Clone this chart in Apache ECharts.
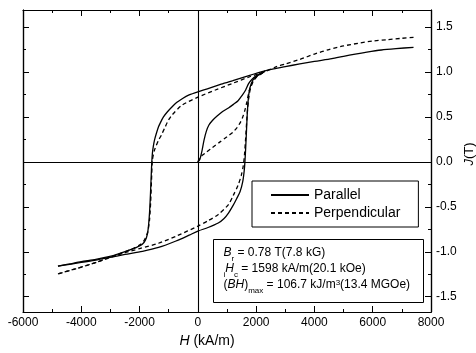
<!DOCTYPE html>
<html>
<head>
<meta charset="utf-8">
<script src="https://cdn.jsdelivr.net/npm/echarts@6/dist/echarts.min.js"></script>
<style>
html,body{margin:0;padding:0;background:#fff;}
#chart{width:476px;height:353px;}
</style>
</head>
<body>
<div id="chart"></div>
<script>
// ---- data (H in kA/m, J in T) ----
const parallelInitial = [[0,0],[70,0.03],[140,0.12],[210,0.24],[290,0.34],[380,0.41],[500,0.46],[660,0.51],[850,0.56],[1050,0.60],[1220,0.64],[1380,0.68],[1520,0.74],[1640,0.80],[1740,0.87],[1860,0.92],[2020,0.96],[2300,1.01]];
const parallelUpper = [[7400,1.275],[6800,1.26],[6300,1.245],[5800,1.222],[5400,1.2],[5000,1.175],[4600,1.148],[4000,1.118],[3500,1.09],[3000,1.06],[2600,1.035],[2300,1.012],[1750,0.96],[1200,0.905],[800,0.865],[400,0.82],[0,0.78],[-300,0.745],[-550,0.70],[-730,0.66],[-890,0.61],[-1050,0.555],[-1180,0.50],[-1280,0.44],[-1350,0.39],[-1430,0.31],[-1490,0.24],[-1530,0.17],[-1560,0.096],[-1580,0.0],[-1600,-0.15],[-1625,-0.35],[-1655,-0.55],[-1690,-0.70],[-1730,-0.80],[-1800,-0.87],[-1915,-0.92],[-2100,-0.95],[-2260,-0.97],[-2700,-1.02],[-3060,-1.055],[-3500,-1.085],[-4000,-1.11],[-4400,-1.135],[-4800,-1.16]];
const parallelLower = [[-4800,-1.16],[-4400,-1.14],[-4000,-1.118],[-3500,-1.093],[-3060,-1.065],[-2500,-1.03],[-1900,-0.995],[-1350,-0.952],[-750,-0.88],[-300,-0.815],[0,-0.77],[350,-0.73],[700,-0.68],[900,-0.63],[1050,-0.57],[1200,-0.49],[1330,-0.41],[1450,-0.33],[1540,-0.22],[1590,-0.1],[1615,0],[1640,0.15],[1665,0.32],[1690,0.5],[1720,0.66],[1760,0.78],[1830,0.87],[1930,0.93],[2100,0.97],[2300,1.01]];
const perpInitial = [[0,0],[60,0.04],[140,0.07],[300,0.11],[500,0.16],[750,0.22],[1000,0.28],[1200,0.33],[1350,0.385],[1460,0.44],[1540,0.5],[1610,0.57],[1670,0.65],[1720,0.73],[1770,0.8],[1850,0.87],[1990,0.94],[2280,1.005]];
const perpUpper = [[7400,1.385],[7000,1.375],[6500,1.36],[6000,1.345],[5500,1.32],[5000,1.29],[4500,1.25],[4000,1.2],[3500,1.14],[3000,1.09],[2700,1.06],[2300,1.005],[1800,0.95],[1160,0.87],[600,0.8],[0,0.72],[-550,0.63],[-890,0.52],[-1000,0.47],[-1120,0.39],[-1250,0.30],[-1350,0.24],[-1430,0.18],[-1490,0.13],[-1560,0.02],[-1590,-0.2],[-1620,-0.45],[-1660,-0.65],[-1720,-0.78],[-1820,-0.86],[-1950,-0.915],[-2300,-0.975],[-2800,-1.035],[-3060,-1.065],[-3600,-1.13],[-4200,-1.19],[-4800,-1.245]];
const perpLower = [[-4800,-1.245],[-4200,-1.19],[-3600,-1.13],[-3060,-1.07],[-2500,-1.01],[-2000,-0.965],[-1350,-0.905],[-700,-0.82],[0,-0.715],[350,-0.655],[700,-0.585],[1050,-0.475],[1220,-0.37],[1380,-0.26],[1490,-0.15],[1560,-0.04],[1600,0.08],[1635,0.24],[1670,0.42],[1705,0.58],[1745,0.71],[1800,0.81],[1880,0.88],[2000,0.94],[2300,1.005]];

const yMajorTicks = [-1.5,-1.0,-0.5,0.0,0.5,1.0,1.5];
const yMinorTicks = [-1.25,-0.75,-0.25,0.25,0.75,1.25];
const legendNames = ['Parallel','Perpendicular'];
const infoLines = [
  '{it|B}{sub|r}{t| = 0.78 T(7.8 kG)}',
  '{sub|i}{it|H}{sub|c}{t| = 1598 kA/m(20.1 kOe)}',
  '{t|(}{it|BH}{t|)}{sub|max}{t| = 106.7 kJ/m}{sup|3}{t|(13.4 MGOe)}'
];

const FONT = 'Liberation Sans, Arial, sans-serif';
const Y_MIN = -1.67, Y_MAX = 1.69;
const X_MIN = -6000, X_MAX = 8000;

const chart = echarts.init(document.getElementById('chart'), null, {renderer:'canvas'});

const solid = {color:'#000', width:1.3, type:'solid'};
const dashed = {color:'#000', width:1.3, type:[4,3]};

function lineSeries(name, data, style, extra) {
  return Object.assign({
    type:'line', name:name, data:data, showSymbol:false, symbol:'none',
    smooth:0.25, lineStyle:style, itemStyle:{color:'#000'},
    xAxisIndex:0, yAxisIndex:0, z:3, animation:false
  }, extra || {});
}

const axisLineStyle = {color:'#000', width:1.2};

function yAx(pos, ticks, len, labels) {
  return {
    type:'value', position:pos, min:Y_MIN, max:Y_MAX,
    axisLine:{show:true, onZero:false, lineStyle:axisLineStyle},
    axisTick:{show:true, inside:true, length:len, customValues:ticks, lineStyle:{color:'#000', width:1}},
    axisLabel:labels ? {show:true, customValues:ticks, color:'#000', fontSize:12, fontFamily:FONT, margin:5,
      formatter:function(v){return v.toFixed(1);}} : {show:false},
    splitLine:{show:false}
  };
}

const option = {
  backgroundColor:'#fff',
  animation:false,
  grid:{left:23, right:45, top:10, bottom:41, containLabel:false, outerBoundsMode:'none'},
  xAxis:[
    {type:'value', position:'bottom', min:X_MIN, max:X_MAX, interval:2000,
     axisLine:{show:true, onZero:false, lineStyle:axisLineStyle},
     axisTick:{show:true, inside:true, length:6, lineStyle:{color:'#000', width:1}},
     minorTick:{show:true, splitNumber:2, length:3, lineStyle:{color:'#000', width:1}},
     axisLabel:{color:'#000', fontSize:12, fontFamily:FONT, margin:5, formatter:function(v){return String(v);}},
     splitLine:{show:false},
     name:'{it|H}{t| (kA/m)}', nameLocation:'middle', nameGap:22, nameMoveOverlap:false,
     nameTextStyle:{padding:[0,40,0,0], rich:{it:{fontStyle:'italic', fontSize:14, fontFamily:FONT, color:'#000'}, t:{fontSize:14, fontFamily:FONT, color:'#000'}}}
    },
    {type:'value', position:'top', min:X_MIN, max:X_MAX, interval:2000,
     axisLine:{show:true, onZero:false, lineStyle:axisLineStyle},
     axisTick:{show:true, inside:true, length:6, lineStyle:{color:'#000', width:1}},
     minorTick:{show:true, splitNumber:2, length:3, lineStyle:{color:'#000', width:1}},
     axisLabel:{show:false}, splitLine:{show:false}
    }
  ],
  yAxis:[
    Object.assign(yAx('right', yMajorTicks, 6, true), {
      name:'{it|J}{t|(T)}', nameLocation:'middle', nameGap:32, nameRotate:90, nameMoveOverlap:false,
      nameTextStyle:{padding:[0,0,0,14], rich:{it:{fontStyle:'italic', fontSize:13, fontFamily:FONT, color:'#000'}, t:{fontSize:13, fontFamily:FONT, color:'#000'}}}
    }),
    yAx('right', yMinorTicks, 3, false),
    yAx('left', yMajorTicks, 6, false),
    yAx('left', yMinorTicks, 3, false)
  ],
  legend:{
    data:legendNames.map(function(n){return {name:n, itemStyle:{opacity:0}};}),
    orient:'vertical', left:252, top:181,
    itemWidth:38, itemHeight:14, itemGap:4,
    padding:[7,18,7,18], borderColor:'#000', borderWidth:1, borderRadius:0,
    backgroundColor:'#fff',
    textStyle:{fontSize:14, color:'#000', fontFamily:FONT},
    selectedMode:false
  },
  series:[
    lineSeries('Parallel', parallelUpper, solid, {
      markLine:{silent:true, symbol:['none','none'], animation:false,
        label:{show:false}, lineStyle:{color:'#000', width:1.1, type:'solid'},
        data:[{xAxis:0},{yAxis:0}]}
    }),
    lineSeries('Perpendicular', perpUpper, dashed),
    lineSeries('Parallel', parallelInitial, solid),
    lineSeries('Parallel', parallelLower, solid),
    lineSeries('Perpendicular', perpInitial, dashed),
    lineSeries('Perpendicular', perpLower, dashed)
  ],
  graphic:[
    {type:'group', left:213, top:239, z:10, children:[
      {type:'rect', shape:{x:0, y:0, width:210, height:63}, style:{fill:'#fff', stroke:'#000', lineWidth:1}},
      {type:'text', x:10, y:7, style:{
        text:infoLines.join('\n'), fill:'#000', font:'12px ' + FONT,
        rich:{
          t:{fontSize:12, fontFamily:FONT, lineHeight:16, verticalAlign:'top', fill:'#000'},
          it:{fontSize:12, fontFamily:FONT, fontStyle:'italic', lineHeight:16, verticalAlign:'top', fill:'#000'},
          sub:{fontSize:8, fontFamily:FONT, lineHeight:8, verticalAlign:'bottom', fill:'#000'},
          sup:{fontSize:8, fontFamily:FONT, lineHeight:8, verticalAlign:'top', fill:'#000'}
        }
      }}
    ]}
  ]
};
chart.setOption(option);
</script>
</body>
</html>
